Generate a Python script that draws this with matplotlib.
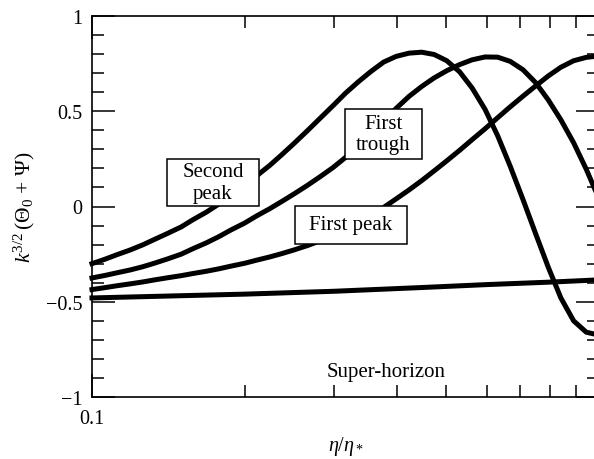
import matplotlib
matplotlib.use('Agg')
import matplotlib.pyplot as plt
from matplotlib.patches import Rectangle
from matplotlib.ticker import FixedLocator, MultipleLocator, NullFormatter

plt.rcParams['font.family'] = ['Liberation Serif', 'DejaVu Serif']
plt.rcParams['mathtext.fontset'] = 'custom'
plt.rcParams['mathtext.rm'] = 'Liberation Serif'
plt.rcParams['mathtext.it'] = 'Liberation Serif:italic'

# eta / eta_*  (log axis)
eta = [0.100, 0.106, 0.112, 0.119, 0.126, 0.133, 0.141, 0.150, 0.158, 0.168,
       0.178, 0.188, 0.200, 0.211, 0.224, 0.237, 0.251, 0.266, 0.282, 0.299,
       0.316, 0.335, 0.355, 0.376, 0.398, 0.422, 0.447, 0.473, 0.501, 0.531,
       0.562, 0.596, 0.631, 0.668, 0.708, 0.750, 0.794, 0.841, 0.891, 0.944,
       1.000]

first_peak = [-0.436, -0.426, -0.416, -0.406, -0.396, -0.385, -0.374, -0.363,
              -0.352, -0.340, -0.327, -0.313, -0.298, -0.282, -0.265, -0.247,
              -0.227, -0.205, -0.180, -0.152, -0.120, -0.085, -0.047, -0.005,
              0.040, 0.087, 0.136, 0.187, 0.240, 0.295, 0.351, 0.408, 0.466,
              0.523, 0.579, 0.633, 0.685, 0.731, 0.765, 0.783, 0.790]

first_trough = [-0.375, -0.362, -0.348, -0.333, -0.316, -0.297, -0.275, -0.250,
                -0.222, -0.191, -0.158, -0.123, -0.087, -0.050, -0.012, 0.027,
                0.068, 0.111, 0.157, 0.205, 0.257, 0.316, 0.380, 0.448, 0.515,
                0.578, 0.630, 0.675, 0.713, 0.745, 0.770, 0.785, 0.784, 0.762,
                0.718, 0.650, 0.560, 0.455, 0.335, 0.195, 0.040]

second_peak = [-0.300, -0.277, -0.253, -0.228, -0.201, -0.172, -0.141, -0.107,
               -0.070, -0.030, 0.013, 0.059, 0.108, 0.160, 0.215, 0.273, 0.334,
               0.398, 0.464, 0.530, 0.594, 0.654, 0.709, 0.758, 0.788, 0.805,
               0.810, 0.798, 0.765, 0.707, 0.622, 0.510, 0.372, 0.212, 0.037,
               -0.143, -0.318, -0.480, -0.600, -0.660, -0.675]

super_eta = [0.10, 0.20, 0.30, 0.45, 0.60, 0.80, 1.00]
super_horizon = [-0.480, -0.460, -0.445, -0.425, -0.410, -0.397, -0.385]

W, H = 594, 460
fig = plt.figure(figsize=(W / 100, H / 100), dpi=100)
ax = fig.add_axes([92 / W, 62 / H, 507 / W, 381 / H])

ax.plot(super_eta, super_horizon, color='black', lw=3.6, clip_on=False)
for ys in (first_peak, first_trough, second_peak):
    ax.plot(eta, ys, color='black', lw=3.6, clip_on=False)

ax.set_xscale('log')
ax.set_xlim(0.1, 1.0)
ax.set_ylim(-1, 1)

ax.xaxis.set_major_locator(FixedLocator([0.1, 1.0]))
ax.set_xticklabels(['0.1', ''])
ax.xaxis.set_minor_locator(FixedLocator([0.2, 0.3, 0.4, 0.5, 0.6, 0.7, 0.8, 0.9]))
ax.xaxis.set_minor_formatter(NullFormatter())
ax.yaxis.set_minor_locator(MultipleLocator(0.1))
ax.set_yticks([-1, -0.5, 0, 0.5, 1])
ax.set_yticklabels(['\u22121', '\u22120.5', '0', '0.5', '1'])

ax.tick_params(which='both', direction='in', top=True, right=True,
               width=1.1, labelsize=14.5)
ax.tick_params(which='major', length=16.5)
ax.tick_params(which='minor', length=8.8)
ax.tick_params(axis='y', pad=7)
ax.tick_params(axis='x', pad=9)
for s in ax.spines.values():
    s.set_linewidth(1.2)

ax.set_ylabel(r'$k^{3/2}\,(\Theta_0\,+\,\Psi)$', fontsize=15.5, labelpad=6)
ax.set_xlabel(r'$\eta/\eta_*$', fontsize=14.5, labelpad=4)


def label_box(x0, y0, x1, y1, text):
    # box given in figure pixels, placed in axes fraction
    fx0 = (x0 - 92) / 507
    fx1 = (x1 - 92) / 507
    fy0 = (398 - y1) / 381
    fy1 = (398 - y0) / 381
    ax.add_patch(Rectangle((fx0, fy0), fx1 - fx0, fy1 - fy0, transform=ax.transAxes,
                           facecolor='white', edgecolor='black', lw=1.1, zorder=5))
    ax.text((fx0 + fx1) / 2, (fy0 + fy1) / 2, text, transform=ax.transAxes,
            ha='center', va='center', fontsize=15, linespacing=1.15, zorder=6)


label_box(167, 160, 259, 207, 'Second\npeak')
label_box(345, 110, 422, 160, 'First\ntrough')
label_box(295, 207, 407, 245, 'First peak')
ax.text((386 - 92) / 507, (398 - 373) / 381, 'Super-horizon', transform=ax.transAxes,
        ha='center', va='center', fontsize=15)

fig.savefig('out.png', dpi=100)
